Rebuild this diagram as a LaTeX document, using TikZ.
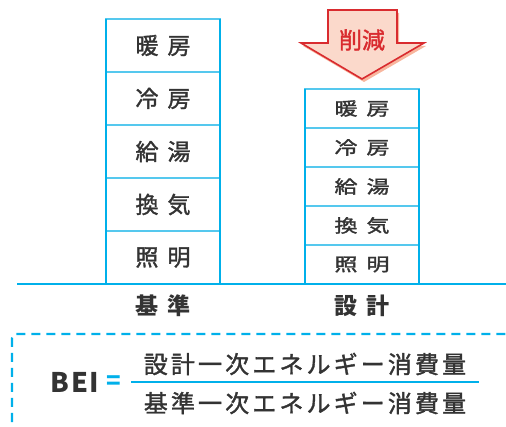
\documentclass[tikz,border=0pt]{standalone}
\usepackage{fontspec}
\usepackage{graphicx}
\setmainfont{Noto Sans CJK JP}
\setsansfont{Noto Sans CJK JP}
\newfontfamily\jpmed[FakeBold=1.5]{Noto Sans CJK JP}
\usetikzlibrary{positioning}
\definecolor{ink}{HTML}{333333}
\definecolor{sideblue}{HTML}{00B0EA}
\definecolor{rowblue}{HTML}{55C8EE}
\definecolor{cutred}{HTML}{D92B2F}
\definecolor{cutfill}{HTML}{FAC8B4}
\definecolor{cutshade}{HTML}{F8B69E}
\newcommand{\vsquash}[1]{\scalebox{1}[0.78]{#1}}
\begin{document}
\begin{tikzpicture}[
    x=1pt, y=-1pt,
    text=ink,
    cell/.style={draw=rowblue, line width=1.2pt, outer sep=0pt, inner sep=0pt,
      minimum width=114pt, font=\jpmed\fontsize{23}{23}\selectfont},
    base cell/.style={cell, minimum height=53pt},
    plan cell/.style={cell, minimum height=39pt},
    side/.style={draw=sideblue, line width=2.6pt},
    ground/.style={draw=sideblue, line width=1.4pt},
    foot/.style={font=\bfseries\fontsize{23}{23}\selectfont},
    frac/.style={font=\jpmed\fontsize{24}{24}\selectfont\addfontfeatures{LetterSpace=13}},
    dashbox/.style={draw=sideblue, line width=2.2pt, dash pattern=on 9pt off 6pt, rounded corners=4pt},
    ]
    \useasboundingbox (0,0) rectangle (506,427);
    \clip (0,0) rectangle (506,427);

    % base building
    \node[base cell, anchor=north] (b1) at (163,19) {暖\kern9pt房};
    \node[base cell, below=0pt of b1] (b2) {冷\kern9pt房};
    \node[base cell, below=0pt of b2] (b3) {給\kern9pt湯};
    \node[base cell, below=0pt of b3] (b4) {換\kern9pt気};
    \node[base cell, below=0pt of b4] (b5) {照\kern9pt明};
    \draw[side] (b1.north west) -- (b5.south west);
    \draw[side] (b1.north east) -- (b5.south east);

    % designed building
    \node[plan cell, anchor=north] (p1) at (362,89) {\vsquash{暖\kern9pt房}};
    \node[plan cell, below=0pt of p1] (p2) {\vsquash{冷\kern9pt房}};
    \node[plan cell, below=0pt of p2] (p3) {\vsquash{給\kern9pt湯}};
    \node[plan cell, below=0pt of p3] (p4) {\vsquash{換\kern9pt気}};
    \node[plan cell, below=0pt of p4] (p5) {\vsquash{照\kern9pt明}};
    \draw[side] (p1.north west) -- (p5.south west);
    \draw[side] (p1.north east) -- (p5.south east);

    \coordinate (g0) at (17,284);
    \coordinate (g1) at (506,284);
    \draw[ground] (g0) -- (g1);
    \node[foot] (kijun) at (163,306) {基\kern9pt準};
    \node[foot] (sekkei) at (362,306) {設\kern9pt計};

    % reduction arrow
    \fill[cutshade, shift={(2,3)}] (328,10) -- (397,10) -- (397,43) -- (424,43)
      -- (362,79) -- (301,43) -- (328,43) -- cycle;
    \draw[cutred, line width=1.6pt, fill=cutfill!70!white]
      (328,10) -- (397,10) -- (397,43) -- (424,43)
      -- (362,79) -- (301,43) -- (328,43) -- cycle;
    \node[text=cutred, font=\jpmed\fontsize{23}{23}\selectfont] (cut) at (362,40) {削減};

    % formula
    \draw[dashbox] (12,334) rectangle (540,470);
    \node[anchor=base, font=\bfseries\fontsize{27}{27}\selectfont\addfontfeatures{LetterSpace=6}] (bei) at (75,393) {BEI};
    \node[anchor=base, text=sideblue, font=\bfseries\fontsize{24}{24}\selectfont] (eq) at (113.5,390) {=};
    \node[frac] (num) at (305,364) {設計一次エネルギー消費量};
    \node[frac] (den) at (305,403) {基準一次エネルギー消費量};
    \coordinate (fl) at (131,382);
    \coordinate (fr) at (479,382);
    \draw[sideblue, line width=1.3pt] (fl) -- (fr);
  \end{tikzpicture}
\end{document}
